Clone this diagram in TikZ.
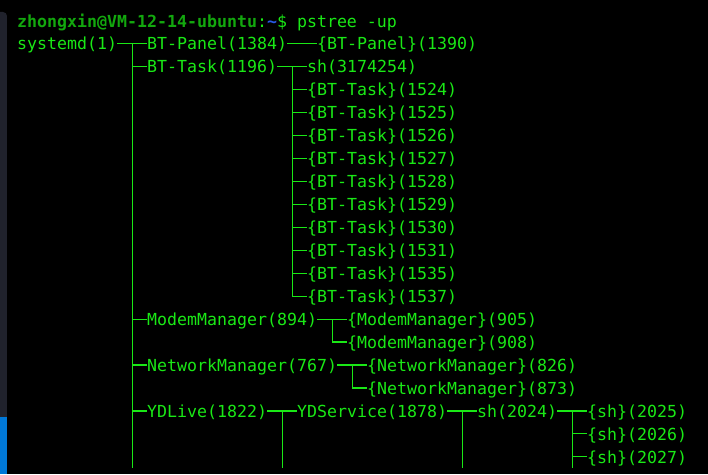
\documentclass[tikz,border=0pt]{standalone}
\usepackage{fontspec}
\newfontfamily\termfont{DejaVu Sans Mono}
\definecolor{termgreen}{RGB}{26,232,22}
\definecolor{promptgreen}{RGB}{19,168,14}
\definecolor{tildeblue}{RGB}{40,90,230}
\definecolor{stripgray}{RGB}{32,34,44}
\definecolor{stripblue}{RGB}{0,120,215}

\begin{document}
\begin{tikzpicture}[x=10pt,y=-22.95pt,
  proc/.style={anchor=base west,inner sep=0pt,text height=12.6pt,text depth=0pt,
    text=termgreen,font=\termfont\fontsize{16.6pt}{20pt}\selectfont},
  tline/.style={draw=termgreen,line width=1.2pt}]
\useasboundingbox (-1.7,-2.1787) rectangle (69.1,18.475);
\fill[black] (-1.7,-2.1787) rectangle (69.1,18.475);
\fill[stripgray,rounded corners=4pt] (-2.3,-1.656) rectangle (-1.0,17.5);
\fill[stripblue] (-1.7,15.99) rectangle (-1.0,18.475);
\coordinate (cut) at (0,18.21);

\node[proc] (prompt) at (0,-1) {{\bfseries\color{promptgreen}zhongxin@VM-12-14-ubuntu}:{\bfseries\color{tildeblue}\textasciitilde}\$ pstree -up};

\node[proc] (sysd) at (0,0) {systemd(1)};
\node[proc] (btpanel) at (13,0) {BT-Panel(1384)};
\node[proc] (btpanelthr) at (30,0) {\{BT-Panel\}(1390)};
\node[proc] (bttask) at (13,1) {BT-Task(1196)};
\node[proc] (sh1) at (29,1) {sh(3174254)};
\foreach \n [count=\r from 2] in {1524,1525,1526,1527,1528,1529,1530,1531,1535,1537}
  \node[proc] (t\n) at (29,\r) {\{BT-Task\}(\n)};
\node[proc] (mm) at (13,12) {ModemManager(894)};
\node[proc] (mm905) at (33,12) {\{ModemManager\}(905)};
\node[proc] (mm908) at (33,13) {\{ModemManager\}(908)};
\node[proc] (nm) at (13,14) {NetworkManager(767)};
\node[proc] (nm826) at (35,14) {\{NetworkManager\}(826)};
\node[proc] (nm873) at (35,15) {\{NetworkManager\}(873)};
\node[proc] (yd) at (13,16) {YDLive(1822)};
\node[proc] (yds) at (28,16) {YDService(1878)};
\node[proc] (sh2) at (46,16) {sh(2024)};
\node[proc] (sh2025) at (57,16) {\{sh\}(2025)};
\node[proc] (sh2026) at (57,17) {\{sh\}(2026)};
\node[proc] (sh2027) at (57,18) {\{sh\}(2027)};

% systemd
\draw[tline] (sysd.east) -- (btpanel.west);
\foreach \c in {bttask,mm,nm,yd}
  \draw[tline] (sysd.east) ++(1.5,0) |- (\c.west);
\path (sysd.east) ++(1.5,0) coordinate (sysj);
\draw[tline] (sysj) -- (sysj |- cut);
% BT-Panel, BT-Task
\draw[tline] (btpanel.east) -- (btpanelthr.west);
\draw[tline] (bttask.east) -- (sh1.west);
\foreach \n in {1524,1525,1526,1527,1528,1529,1530,1531,1535,1537}
  \draw[tline] (bttask.east) ++(1.5,0) |- (t\n.west);
% ModemManager, NetworkManager
\draw[tline] (mm.east) -- (mm905.west);
\draw[tline] (mm.east) ++(1.5,0) |- (mm908.west);
\draw[tline] (nm.east) -- (nm826.west);
\draw[tline] (nm.east) ++(1.5,0) |- (nm873.west);
% YDLive
\draw[tline] (yd.east) -- (yds.west);
\path (yd.east) ++(1.5,0) coordinate (ydj);
\draw[tline] (ydj) -- (ydj |- cut);
\draw[tline] (yds.east) -- (sh2.west);
\path (yds.east) ++(1.5,0) coordinate (ydsj);
\draw[tline] (ydsj) -- (ydsj |- cut);
\draw[tline] (sh2.east) -- (sh2025.west);
\foreach \c in {sh2026,sh2027}
  \draw[tline] (sh2.east) ++(1.5,0) |- (\c.west);
\path (sh2.east) ++(1.5,0) coordinate (sh2j);
\draw[tline] (sh2j) -- (sh2j |- cut);
\end{tikzpicture}
\end{document}
